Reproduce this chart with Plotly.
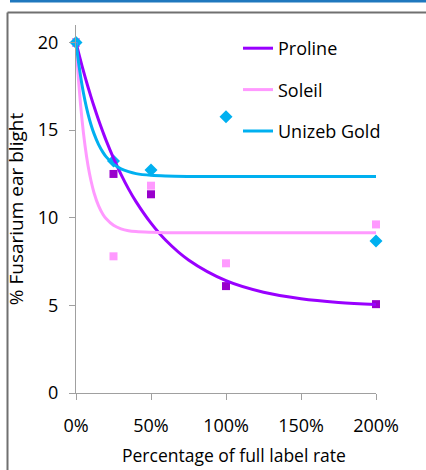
import plotly.graph_objects as go

# Observed data (x in % of full label rate)
rates = [0, 25, 50, 100, 200]
proline_obs = [20.0, 12.5, 11.34, 6.1, 5.07]
soleil_obs = [20.0, 7.8, 11.83, 7.4, 9.62]
unizeb_obs = [20.0, 13.24, 12.73, 15.77, 8.67]

# Fitted curves, values at these rates
curve_x = [0, 2, 4, 6, 8, 10, 12, 15, 18, 20, 25, 30, 35, 40, 50, 60, 75, 100, 125, 150, 175, 200]
proline_fit = [20.0, 19.32, 18.67, 18.05, 17.46, 16.90, 16.36, 15.59, 14.88, 14.43, 13.40, 12.48,
               11.65, 10.92, 9.69, 8.70, 7.59, 6.41, 5.75, 5.38, 5.17, 5.05]
soleil_fit = [20.0, 17.51, 15.60, 14.12, 12.98, 12.11, 11.43, 10.69, 10.19, 9.96, 9.57, 9.37,
              9.26, 9.21, 9.17, 9.15, 9.15, 9.15, 9.15, 9.15, 9.15, 9.15]
unizeb_fit = [20.0, 18.68, 17.58, 16.68, 15.93, 15.31, 14.80, 14.19, 13.73, 13.49, 13.06, 12.79,
              12.63, 12.52, 12.42, 12.38, 12.36, 12.35, 12.35, 12.35, 12.35, 12.35]

x_ticks = [0, 50, 100, 150, 200]
x_ticklabels = ["0%", "50%", "100%", "150%", "200%"]
y_ticks = [0, 5, 10, 15, 20]

FONT = "Open Sans"
C_PRO_LINE, C_PRO_MK = "#9900FF", "#9900CC"
C_SOL = "#FF99FF"
C_UNI = "#00B0F0"

fig = go.Figure()

# markers
fig.add_trace(go.Scatter(x=rates, y=proline_obs, mode="markers", showlegend=False,
                         marker=dict(symbol="square", size=8, color=C_PRO_MK), cliponaxis=False))
fig.add_trace(go.Scatter(x=rates, y=soleil_obs, mode="markers", showlegend=False,
                         marker=dict(symbol="square", size=8, color=C_SOL), cliponaxis=False))
fig.add_trace(go.Scatter(x=rates, y=unizeb_obs, mode="markers", showlegend=False,
                         marker=dict(symbol="diamond", size=10, color=C_UNI), cliponaxis=False))

# curves
fig.add_trace(go.Scatter(x=curve_x, y=proline_fit, mode="lines", name="Proline", legendgroup="a",
                         line=dict(color=C_PRO_LINE, width=3, shape="spline"), cliponaxis=False))
fig.add_trace(go.Scatter(x=curve_x, y=soleil_fit, mode="lines", name="Soleil", legendgroup="b",
                         line=dict(color=C_SOL, width=3, shape="spline"), cliponaxis=False))
fig.add_trace(go.Scatter(x=curve_x, y=unizeb_fit, mode="lines", name="Unizeb Gold", legendgroup="c",
                         line=dict(color=C_UNI, width=3, shape="spline"), cliponaxis=False))

L, R, T, B = 76, 50, 25, 77
W, H = 426, 470
pw, ph = W - L - R, H - T - B

def px(xp):
    return (xp - L) / pw

def py(yp):
    return (H - B - yp) / ph

FRAME = dict(color="#707070", width=2)

fig.update_layout(
    width=W, height=H,
    margin=dict(l=L, r=R, t=T, b=B, autoexpand=False),
    paper_bgcolor="white", plot_bgcolor="white",
    font=dict(family=FONT, size=18, color="#000000"),
    showlegend=True,
    hovermode=False,
    legend=dict(x=px(238), y=py(30), xanchor="left", yanchor="top",
                bgcolor="rgba(0,0,0,0)", tracegroupgap=15,
                font=dict(family=FONT, size=18, color="#000000")),
    xaxis=dict(range=[0, 200], tickvals=x_ticks, ticktext=x_ticklabels,
               showgrid=False, zeroline=False, showline=True, linecolor="#A0A0A0", linewidth=1,
               ticks="outside", ticklen=6, tickcolor="#A0A0A0",
               ticklabelstandoff=10, automargin=False,
               tickfont=dict(family=FONT, size=18), fixedrange=True),
    yaxis=dict(range=[0, 21], tickvals=y_ticks,
               showgrid=False, zeroline=False, showline=True, linecolor="#A0A0A0", linewidth=1,
               ticks="outside", ticklen=6, tickcolor="#A0A0A0",
               ticklabelstandoff=7, automargin=False,
               title=dict(text="% Fusarium ear blight", standoff=9,
                          font=dict(family=FONT, size=19)),
               tickfont=dict(family=FONT, size=18), fixedrange=True),
    annotations=[
        dict(text="Percentage of full label rate", xref="paper", yref="paper",
             x=px(234), y=py(455), xanchor="center", yanchor="middle", showarrow=False,
             font=dict(family=FONT, size=17.5, color="#000000")),
    ],
    shapes=[
        dict(type="rect", xref="paper", yref="paper",
             x0=px(10), x1=px(W), y0=py(0), y1=py(2.5),
             fillcolor="#1F78BE", line=dict(width=0), layer="above"),
        dict(type="line", xref="paper", yref="paper",
             x0=px(7.5), x1=px(7.5), y0=py(H), y1=py(12.5), line=FRAME, layer="below"),
        dict(type="line", xref="paper", yref="paper",
             x0=px(7.5), x1=px(W), y0=py(12.5), y1=py(12.5), line=FRAME, layer="below"),
    ],
)

POST = (
    "var s=document.createElement('style');"
    "s.textContent='html,body{margin:0;padding:0;overflow:hidden;scrollbar-width:none;}"
    "::-webkit-scrollbar{display:none;width:0;height:0;}';"
    "document.head.appendChild(s);"
)

fig.write_html("out.html", config={"displayModeBar": False, "staticPlot": True},
               post_script=POST)
